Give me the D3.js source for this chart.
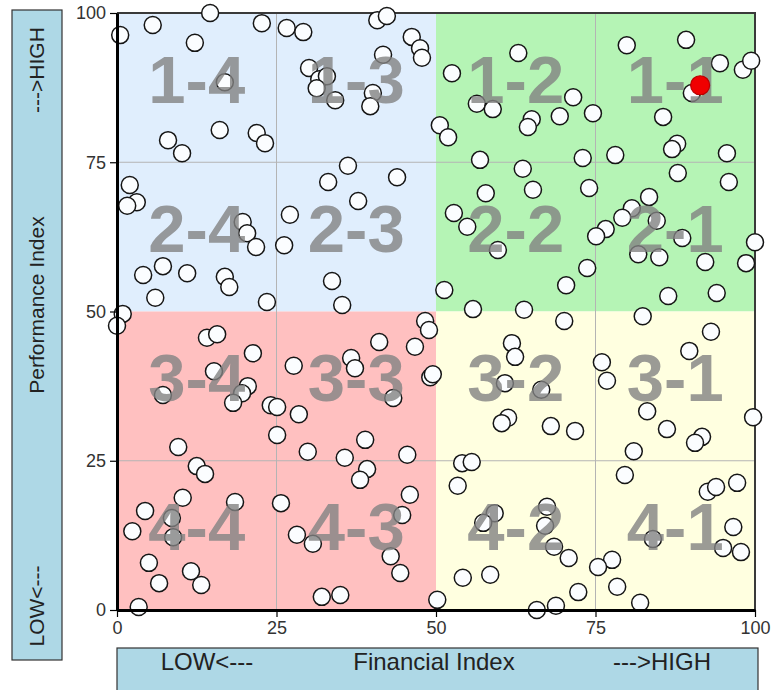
<!DOCTYPE html>
<html>
<head>
<meta charset="utf-8">
<script src="https://cdn.jsdelivr.net/npm/d3@7"></script>
<style>
  body { margin: 0; background: #fff; }
  svg text { font-family: Arial, "Liberation Sans", sans-serif; }
</style>
</head>
<body>
<div id="chart"></div>
<script>
/*
  portfolio matrix : financial index vs performance index
*/
var financial = [
  0.5, 5.6, 14.6, 12.2, 16.9, 22.7, 26.6, 29.2, 40.8, 42.3, 46.2, 47.5, 47.8, 41.7, 30.1, 31.7,
  32.9, 31.3, 34.2, 40.1, 39.7, 16.1, 8.0, 10.2, 21.9, 23.2, 2.0, 3.1, 1.6, 36.2, 33.1, 43.9,
  37.8, 27.1, 19.7, 20.4, 21.8, 26.2, 7.2, 4.1, 11.0, 16.9, 17.6, 6.0, 23.5, 33.7, 35.3, 0.9,
  // top right
  50.6, 51.9, 52.5, 62.9, 56.4, 58.9, 71.5, 69.4, 65.0, 64.4, 74.6, 79.9, 89.2, 94.5, 98.1, 99.4,
  90.1, 85.6, 87.8, 87.0, 95.6, 78.1, 73.0, 56.9, 63.6, 87.9, 95.9, 57.8, 65.2, 74.0, 52.8, 54.9,
  59.7, 83.4, 80.7, 79.2, 76.6, 75.1, 84.6, 88.6, 81.7, 85.0, 92.2, 98.6, 100.0, 73.7, 70.4, 51.3,
  55.8, 63.8, 86.4, 94.0,
  // bottom right
  70.1, 82.4, 93.1, 89.7, 61.9, 62.4, 76.0, 76.8, 60.8, 66.5, 83.1, 61.3, 60.3, 68.0, 71.8, 86.2,
  91.7, 90.6, 81.0, 99.7, 54.1, 55.6, 79.6, 53.4, 92.6, 93.9, 97.2, 59.2, 57.4, 67.4, 67.1, 68.5,
  70.8, 96.6, 95.0, 97.8, 84.0, 77.6, 75.4, 54.2, 58.5, 78.4, 72.3, 82.0, 65.8, 68.8, 50.2,
  // bottom left
  0.0, 14.1, 15.7, 21.3, 15.2, 7.2, 20.5, 19.6, 18.2, 24.1, 25.1, 27.7, 28.5, 36.7, 37.3, 41.1,
  46.7, 48.3, 48.9, 49.1, 49.5, 43.3, 25.1, 9.6, 29.9, 35.7, 38.9, 45.5, 39.2, 12.5, 13.8, 10.3,
  4.4, 8.6, 8.8, 2.4, 18.5, 5.0, 6.6, 11.6, 13.2, 3.4, 25.7, 38.1, 45.9, 44.7, 28.2, 30.7,
  42.9, 44.4, 32.1, 35.0
];
var performance = [
  96.3, 98.0, 100.0, 95.0, 88.4, 98.3, 97.5, 96.8, 98.8, 99.5, 96.0, 94.1, 92.5, 93.0, 90.8, 88.9,
  89.4, 87.4, 85.4, 86.6, 84.4, 80.4, 78.7, 76.5, 79.9, 78.2, 71.2, 68.3, 67.7, 74.4, 71.7, 72.5,
  68.5, 66.2, 65.0, 63.1, 60.8, 61.1, 57.6, 56.1, 56.4, 55.8, 54.1, 52.3, 51.6, 55.1, 51.1, 49.6,
  // top right
  81.2, 79.2, 89.9, 93.3, 84.8, 83.9, 85.9, 82.7, 82.2, 80.9, 83.2, 94.6, 95.5, 91.6, 90.5, 92.0,
  86.6, 82.6, 78.1, 77.2, 76.5, 76.2, 75.7, 75.4, 73.9, 73.2, 71.7, 69.8, 70.4, 70.7, 66.5, 64.2,
  60.3, 69.2, 67.3, 65.7, 63.8, 62.6, 65.2, 62.3, 59.6, 59.1, 58.3, 58.1, 61.6, 57.3, 54.4, 53.6,
  50.4, 50.3, 52.6, 53.1,
  // bottom right
  48.4, 49.2, 46.6, 43.4, 44.7, 42.4, 41.5, 38.4, 38.0, 36.9, 33.3, 32.2, 31.3, 30.8, 30.0, 30.3,
  29.0, 28.0, 26.6, 32.3, 24.6, 24.8, 22.6, 20.8, 19.8, 20.6, 21.3, 16.2, 14.6, 17.3, 14.1, 10.6,
  8.7, 13.9, 10.4, 9.7, 11.9, 8.4, 7.2, 5.4, 5.9, 3.9, 3.0, 1.2, 0.0, 0.7, 1.7,
  // bottom left
  47.6, 45.6, 46.2, 43.0, 40.0, 36.0, 37.5, 36.3, 34.7, 34.3, 34.0, 40.9, 32.8, 42.2, 40.5, 44.9,
  44.1, 48.4, 46.9, 39.0, 39.5, 35.5, 29.3, 27.3, 26.5, 25.5, 28.5, 26.0, 23.6, 24.1, 22.8, 18.8,
  16.6, 15.4, 12.2, 13.2, 18.1, 7.9, 4.5, 6.5, 4.2, 0.5, 17.9, 21.8, 19.3, 15.9, 12.6, 11.1,
  9.0, 6.2, 2.2, 2.5
];
// the selected item
var highlightFinancial = [91.4],
    highlightPerformance = [87.9];

var ticks = [0, 25, 50, 75, 100],
    gridValues = [25, 75];

// quadrants : [x from, x to, y from, y to]
var quadrants = [[0, 50, 50, 100], [50, 100, 50, 100], [0, 50, 0, 50], [50, 100, 0, 50]],
    quadrantColors = ['#e0eefd', '#b5f4b5', '#ffc0c0', '#ffffe0'];

// cell names, rows top to bottom
var cellLabels = [
  ['1-4', '1-3', '1-2', '1-1'],
  ['2-4', '2-3', '2-2', '2-1'],
  ['3-4', '3-3', '3-2', '3-1'],
  ['4-4', '4-3', '4-2', '4-1']
];

var svg = d3.select('#chart')
  .append('svg')
    .attr('width', 775)
    .attr('height', 690);

var x = d3.scaleLinear().domain([0, 100]).range([117, 755]),
    y = d3.scaleLinear().domain([0, 100]).range([610, 13]);

// backgrounds
svg.selectAll('rect.quad')
  .data(quadrants)
  .enter()
    .append('rect')
      .attr('class', 'quad')
      .attr('x', function(d) { return x(d[0]); })
      .attr('y', function(d) { return y(d[3]); })
      .attr('width', function(d) { return x(d[1]) - x(d[0]); })
      .attr('height', function(d) { return y(d[2]) - y(d[3]); })
      .attr('fill', function(d, i) { return quadrantColors[i]; });

// grid
svg.selectAll('line.gx')
  .data(gridValues)
  .enter()
    .append('line')
      .attr('x1', x).attr('x2', x)
      .attr('y1', y(0)).attr('y2', y(100))
      .attr('stroke', '#b4b4b4');
svg.selectAll('line.gy')
  .data(gridValues)
  .enter()
    .append('line')
      .attr('y1', y).attr('y2', y)
      .attr('x1', x(0)).attr('x2', x(100))
      .attr('stroke', '#b4b4b4');

// frame top / right
svg.append('path')
  .attr('d', 'M' + x(0) + ',' + y(100) + 'H' + x(100) + 'V' + y(0))
  .attr('fill', 'none')
  .attr('stroke', '#3a3a3a')
  .attr('stroke-width', 2);

// points
var points = financial.map(function(f, i) { return [f, performance[i]]; });
svg.selectAll('circle.pt')
  .data(points)
  .enter()
    .append('circle')
      .attr('class', 'pt')
      .attr('cx', function(d) { return x(d[0]); })
      .attr('cy', function(d) { return y(d[1]); })
      .attr('r', 8.5)
      .attr('fill', '#fbfdff')
      .attr('stroke', '#151515')
      .attr('stroke-width', 1.5);

// cell names over the points
cellLabels.forEach(function(row, r) {
  row.forEach(function(name, c) {
    svg.append('text')
      .attr('x', x(c * 25 + 12.5))
      .attr('y', y(100 - r * 25 - 12.5) + 15)
      .attr('text-anchor', 'middle')
      .attr('font-size', 67)
      .attr('font-weight', 'bold')
      .attr('fill', '#828282')
      .attr('fill-opacity', 0.8)
      .text(name);
  });
});

// selected point
svg.selectAll('circle.hl')
  .data(highlightFinancial)
  .enter()
    .append('circle')
      .attr('cx', function(d) { return x(d); })
      .attr('cy', function(d, i) { return y(highlightPerformance[i]); })
      .attr('r', 9.5)
      .attr('fill', '#f00000')
      .attr('stroke', '#b00')
      .attr('stroke-width', 1.2);

// axes
var yAxis = d3.axisLeft(y).tickValues(ticks).tickSize(7).tickSizeOuter(0).tickPadding(4),
    xAxis = d3.axisBottom(x).tickValues(ticks).tickSize(7).tickSizeOuter(0).tickPadding(4);

var gy = svg.append('g').attr('transform', 'translate(' + x(0) + ',0)').call(yAxis);
var gx = svg.append('g').attr('transform', 'translate(0,' + y(0) + ')').call(xAxis);
[gx, gy].forEach(function(g) {
  g.select('.domain').attr('stroke', '#000').attr('stroke-width', 3);
  g.selectAll('.tick line').attr('stroke', '#000').attr('stroke-width', 1.2);
  g.selectAll('.tick text').attr('font-size', 18).attr('fill', '#333').attr('font-family', 'Arial, "Liberation Sans", sans-serif');
});

// axis title boxes
svg.append('rect')
  .attr('x', 12).attr('y', 10).attr('width', 50).attr('height', 650)
  .attr('fill', '#aed8e6').attr('stroke', '#333').attr('stroke-width', 1.2);
svg.append('rect')
  .attr('x', 117).attr('y', 648).attr('width', 641).attr('height', 60)
  .attr('fill', '#aed8e6').attr('stroke', '#333').attr('stroke-width', 1.2);

var leftTitles = [['--->HIGH', 70], ['Performance Index', 305], ['LOW<---', 606]];
leftTitles.forEach(function(t) {
  svg.append('text')
    .attr('transform', 'translate(44,' + t[1] + ') rotate(-90)')
    .attr('text-anchor', 'middle')
    .attr('font-size', 21)
    .attr('fill', '#222')
    .text(t[0]);
});

var bottomTitles = [['LOW<---', 207], ['Financial Index', 434], ['--->HIGH', 662]];
bottomTitles.forEach(function(t) {
  svg.append('text')
    .attr('x', t[1]).attr('y', 670)
    .attr('text-anchor', 'middle')
    .attr('font-size', 24)
    .attr('fill', '#222')
    .text(t[0]);
});
</script>
</body>
</html>
